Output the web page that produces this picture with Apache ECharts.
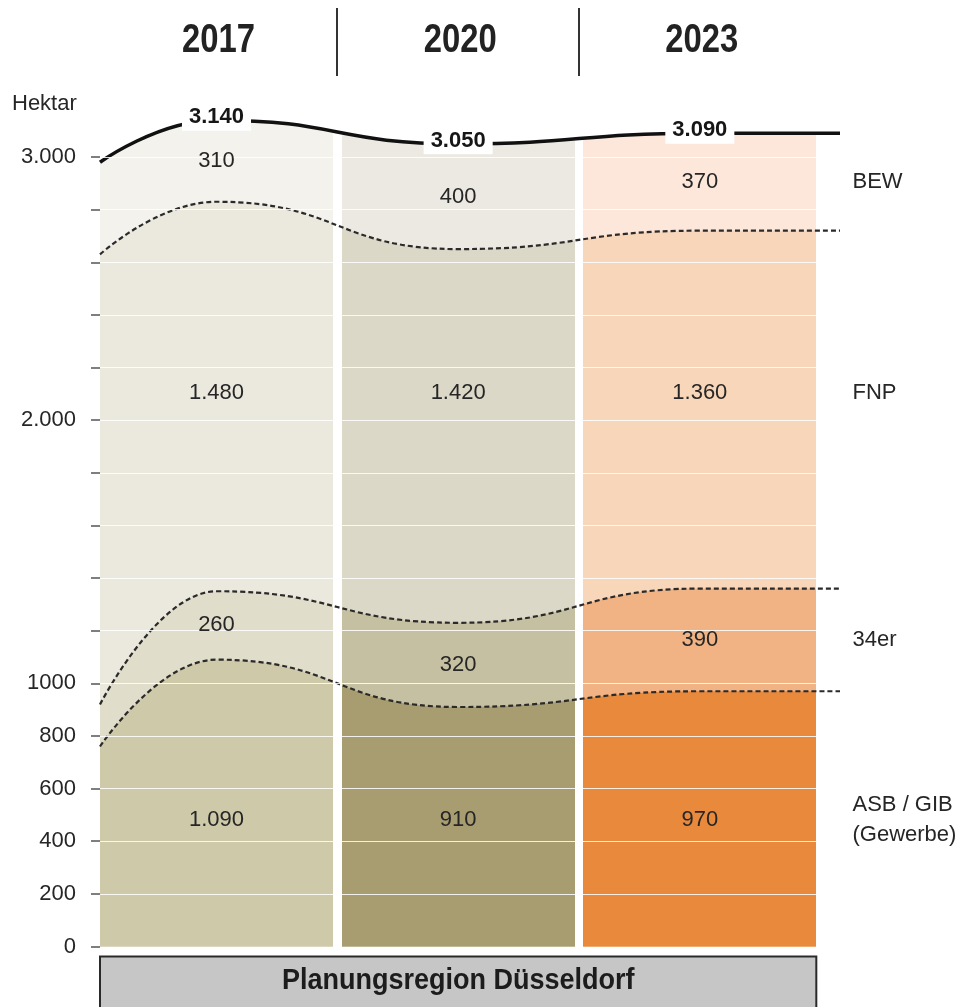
<!DOCTYPE html>
<html>
<head>
<meta charset="utf-8">
<script src="https://cdn.jsdelivr.net/npm/echarts@6/dist/echarts.min.js"></script>
<style>
  html, body { margin: 0; padding: 0; background: #fff; }
  #chart { width: 961px; height: 1007px; }
</style>
</head>
<body>
<div id="chart"></div>
<script>
// ---- data (Hektar) ----
const years = ['2017', '2020', '2023'];
const bandNames = ['ASB / GIB\n(Gewerbe)', '34er', 'FNP', 'BEW'];   // bottom to top
const asbValues = [1090, 910, 970];
const er34Values = [260, 320, 390];
const fnpValues = [1480, 1420, 1360];
const bewValues = [310, 400, 370];
// band thickness where the curves begin, at the left edge of the first column
const leftEdgeValues = [760, 160, 1710, 350];
const yTickValues = [0, 200, 400, 600, 800, 1000, 1200, 1400, 1600, 1800, 2000, 2200, 2400, 2600, 2800, 3000];
const yTickLabels = { 0: '0', 200: '200', 400: '400', 600: '600', 800: '800', 1000: '1000', 2000: '2.000', 3000: '3.000' };
const unitLabel = 'Hektar';
const regionName = 'Planungsregion Düsseldorf';

// ---- styling / layout ----
const bandColors = [               // [2017, 2020, 2023] per band
  ['#cdc9a9', '#a89d70', '#e8893c'],
  ['#e0ddca', '#c6c0a2', '#f1b383'],
  ['#ebe9de', '#dcd8c7', '#f8d6b9'],
  ['#f3f2ec', '#ebe9e1', '#fce7da']
];
const colHalf = 0.482;            // half column width in x units (columns centred on 0,1,2)
const xStart = -0.482, xEnd = 2.58;
const rowLabelLevel = [480, null, 2105, null];  // rows whose labels sit on one common line
const FONT = "'Liberation Sans', Arial, sans-serif";
const TEXT = '#262626';

const bands = [asbValues, er34Values, fnpValues, bewValues];
const fmt = v => String(v).replace(/\B(?=(\d{3})+(?!\d))/g, '.');

// cumulative tops of each band
const cum = bands.map((_, b) => years.map((_, i) => bands.slice(0, b + 1).reduce((s, arr) => s + arr[i], 0)));
const leftCum = leftEdgeValues.map((_, b) => leftEdgeValues.slice(0, b + 1).reduce((s, v) => s + v, 0));

const series = [];
const visualMaps = [];
// draw from the top band down so every lower band covers the one above it
for (let b = bands.length - 1; b >= 0; b--) {
  const isTop = b === bands.length - 1;
  const idx = series.length;
  const s = {
    type: 'line',
    name: bandNames[b],
    smooth: 0.5,
    smoothMonotone: 'x',
    symbol: 'none',
    clip: false,
    silent: true,
    data: [[xStart, leftCum[b]]].concat(years.map((_, i) => [i, cum[b][i]]), [[xEnd, cum[b][years.length - 1]]]),
    lineStyle: isTop
      ? { color: '#111', width: 3.5, type: 'solid' }
      : { color: '#2a2a2a', width: 2.2, type: [5, 3] },
    areaStyle: { opacity: 1 }
  };
  if (b === 0) {
    // thin white guide lines across the columns, above all filled bands
    s.markLine = {
      silent: true, symbol: 'none', label: { show: false },
      lineStyle: { color: 'rgba(255,255,255,0.85)', width: 1, type: 'solid' },
      data: yTickValues.filter(v => v > 0).map(v => ({ yAxis: v }))
    };
  }
  series.push(s);
  visualMaps.push({
    type: 'piecewise',
    show: false,
    seriesIndex: idx,
    dimension: 0,
    pieces: years.map((_, i) => ({ gte: i === 0 ? -1 : i - colHalf, lt: i + colHalf, color: bandColors[b][i] })),
    outOfRange: { color: 'rgba(255,255,255,0)' }
  });
}

const hiddenPoint = { symbol: 'circle', symbolSize: 1, itemStyle: { color: 'rgba(0,0,0,0)', opacity: 1 } };

// value labels inside the columns
const valueLabels = [];
bands.forEach((arr, b) => {
  arr.forEach((v, i) => {
    const below = b === 0 ? 0 : cum[b - 1][i];
    const level = rowLabelLevel[b] != null ? rowLabelLevel[b] : below + v / 2;
    valueLabels.push({ value: [i, level], label: { formatter: fmt(v) } });
  });
});
series.push(Object.assign({
  type: 'scatter', silent: true, clip: false, z: 5,
  label: { show: true, position: 'inside', fontFamily: FONT, fontSize: 22, color: TEXT },
  data: valueLabels
}, hiddenPoint));

// totals on the top line
const last = bands.length - 1;
series.push(Object.assign({
  type: 'scatter', silent: true, clip: false, z: 6,
  label: {
    show: true, position: 'inside', offset: [0, -3], fontFamily: FONT, fontSize: 22, fontWeight: 'bold', color: '#161616',
    backgroundColor: '#fff', padding: [3, 7, 2, 7]
  },
  data: years.map((_, i) => ({ value: [i, cum[last][i]], label: { formatter: fmt(cum[last][i]) } }))
}, hiddenPoint));

// band names to the right, level with the last column's labels
const lastCol = years.length - 1;
series.push(Object.assign({
  type: 'scatter', silent: true, clip: false, z: 5,
  label: { show: true, position: 'right', distance: 12, align: 'left', fontFamily: FONT, fontSize: 22, lineHeight: 30, color: TEXT },
  data: bandNames.map((name, b) => {
    const below = b === 0 ? 0 : cum[b - 1][lastCol];
    const level = rowLabelLevel[b] != null ? rowLabelLevel[b] : below + bands[b][lastCol] / 2;
    return { value: [xEnd, level], label: { formatter: name } };
  })
}, hiddenPoint));

const chart = echarts.init(document.getElementById('chart'), null, { renderer: 'canvas' });
chart.setOption({
  animation: false,
  backgroundColor: '#fff',
  grid: { left: 100, right: 121, top: 157, bottom: 60.5 },
  xAxis: { type: 'value', min: xStart, max: xEnd, show: false },
  yAxis: {
    type: 'value', min: 0, max: 3000, interval: 200,
    axisLine: { show: false, onZero: false },
    axisTick: { show: true, length: 9, lineStyle: { color: '#555', width: 1.5 } },
    axisLabel: { margin: 24, fontFamily: FONT, fontSize: 22, color: TEXT, formatter: v => yTickLabels[v] || '' },
    splitLine: { show: false }
  },
  visualMap: visualMaps,
  series: series
});

// headers, separators, unit and region box placed from the axis scale
const px = v => chart.convertToPixel({ xAxisIndex: 0 }, v);
const graphics = [];
years.forEach((y, i) => {
  graphics.push({
    type: 'text', x: px(i) + 2, y: 41, scaleX: 0.82,
    style: { text: y, font: 'bold 40px ' + FONT, fill: '#222', textAlign: 'center', textVerticalAlign: 'middle' }
  });
  if (i < years.length - 1) {
    const sx = Math.round(px(i + 0.5));
    graphics.push({ type: 'line', shape: { x1: sx, y1: 8, x2: sx, y2: 76 }, style: { stroke: '#333', lineWidth: 2 } });
  }
});
graphics.push({
  type: 'text', x: 12, y: 104,
  style: { text: unitLabel, font: '22px ' + FONT, fill: TEXT, textAlign: 'left', textVerticalAlign: 'middle' }
});
const boxL = px(-colHalf), boxR = px(lastCol + colHalf);
graphics.push({
  type: 'rect', shape: { x: boxL, y: 956.5, width: boxR - boxL, height: 60 },
  style: { fill: '#c6c6c6', stroke: '#2a2a2a', lineWidth: 2 }
});
graphics.push({
  type: 'text', x: (boxL + boxR) / 2, y: 981, scaleX: 0.9,
  style: { text: regionName, font: 'bold 30px ' + FONT, fill: '#1c1c1c', textAlign: 'center', textVerticalAlign: 'middle' }
});
chart.setOption({ graphic: graphics });
</script>
</body>
</html>
